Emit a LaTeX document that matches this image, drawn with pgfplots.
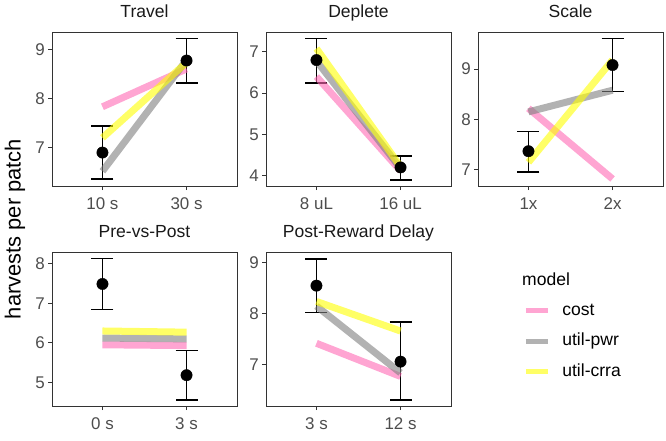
\documentclass[border=0pt]{standalone}
\usepackage{fontspec}
\setmainfont{Liberation Sans}
\usepackage{pgfplots}
\pgfplotsset{compat=1.18}
\definecolor{boxgray}{HTML}{333333}
\definecolor{ticktext}{HTML}{4D4D4D}
\definecolor{mpink}{HTML}{FF69B4}
\definecolor{mgray}{HTML}{7F7F7F}
\definecolor{myellow}{HTML}{FFFF00}
\pgfplotsset{
  panel/.style={
    scale only axis, width=185bp, height=154bp, anchor=north west,
    xmin=0.4, xmax=2.6, xtick={1,2},
    axis line style={boxgray, line width=1bp},
    tick style={boxgray, line width=1bp},
    tick align=outside, major tick length=4bp,
    xtick pos=left, ytick pos=left,
    ticklabel style={font=\fontsize{17}{20}\selectfont, text=ticktext},
    xticklabel style={inner sep=0pt, anchor=north, yshift=-7.5bp},
    yticklabel style={inner sep=0pt, anchor=east, xshift=-3bp},
    /pgf/number format/assume math mode=true,
    title style={font=\fontsize{17.6}{20}\selectfont, text=black!90, at={(0.5,1)}, anchor=base, yshift=8.5bp, inner sep=0pt},
    legend image code/.code={\draw[##1, line width=5bp] (0bp,0bp) -- (22bp,0bp);},
  },
  costl/.style={mpink, draw opacity=0.6, line width=7bp, line cap=butt, no marks},
  pwrl/.style={mgray, draw opacity=0.6, line width=7bp, line cap=butt, no marks},
  crral/.style={myellow, draw opacity=0.6, line width=7bp, line cap=butt, no marks},
  obs/.style={only marks, mark=*, mark size=5.7bp, black, forget plot,
    error bars/.cd, y dir=both, y explicit,
    error bar style={line width=1.5bp, black},
    error mark options={rotate=90, mark size=11bp, line width=1.5bp, black}},
}
\begin{document}
\begin{tikzpicture}
\useasboundingbox (0,0) rectangle (666bp,-441bp);
% Travel
\begin{axis}[panel, at={(52bp,-32bp)}, title={Travel},
  xticklabels={10 s,30 s}, ymin=6.22, ymax=9.35, ytick={7,8,9}]
\addplot[obs] coordinates {(1,6.90) += (0,0.54) -= (0,0.54) (2,8.77) += (0,0.45) -= (0,0.46)};
\addplot[costl] coordinates {(1,7.83) (2,8.60)};
\addplot[pwrl] coordinates {(1,6.52) (2,8.78)};
\addplot[crral] coordinates {(1,7.20) (2,8.73)};
\end{axis}
% Deplete
\begin{axis}[panel, at={(266bp,-32bp)}, title={Deplete},
  xticklabels={8 uL,16 uL}, ymin=3.75, ymax=7.48, ytick={4,5,6,7}]
\addplot[obs] coordinates {(1,6.80) += (0,0.52) -= (0,0.55) (2,4.20) += (0,0.28) -= (0,0.30)};
\addplot[costl] coordinates {(1,6.40) (2,4.12)};
\addplot[pwrl] coordinates {(1,6.78) (2,4.18)};
\addplot[crral] coordinates {(1,7.08) (2,4.22)};
\end{axis}
% Scale
\begin{axis}[panel, at={(478bp,-32bp)}, title={Scale},
  xticklabels={1x,2x}, ymin=6.68, ymax=9.735, ytick={7,8,9}]
\addplot[obs] coordinates {(1,7.37) += (0,0.39) -= (0,0.41) (2,9.08) += (0,0.53) -= (0,0.53)};
\addplot[costl] coordinates {(1,8.22) (2,6.82)};
\addplot[pwrl] coordinates {(1,8.15) (2,8.58)};
\addplot[crral] coordinates {(1,7.15) (2,9.18)};
\end{axis}
% Pre-vs-Post
\begin{axis}[panel, at={(52bp,-252bp)}, title={Pre-vs-Post},
  xticklabels={0 s,3 s}, ymin=4.40, ymax=8.30, ytick={5,6,7,8}]
\addplot[obs] coordinates {(1,7.49) += (0,0.65) -= (0,0.64) (2,5.18) += (0,0.62) -= (0,0.63)};
\addplot[costl] coordinates {(1,5.95) (2,5.93)};
\addplot[pwrl] coordinates {(1,6.12) (2,6.10)};
\addplot[crral] coordinates {(1,6.30) (2,6.27)};
\end{axis}
% Post-Reward Delay
\begin{axis}[panel, at={(266bp,-252bp)}, title={Post-Reward Delay},
  xticklabels={3 s,12 s}, ymin=6.18, ymax=9.20, ytick={7,8,9},
  legend style={at={(axis description cs:1.39,0.674)}, anchor=north west,
    draw=none, fill=none, inner sep=0pt, row sep=13.5bp,
    font=\fontsize{17.6}{20}\selectfont,
    nodes={inner sep=0pt, text height=13bp, text depth=4bp},
    /tikz/every odd column/.append style={column sep=12bp}},
  legend cell align=left]
\addplot[obs] coordinates {(1,8.54) += (0,0.52) -= (0,0.53) (2,7.05) += (0,0.78) -= (0,0.75)};
\addplot[costl] coordinates {(1,7.41) (2,6.76)};
\addlegendentry{cost}
\addplot[pwrl] coordinates {(1,8.14) (2,6.83)};
\addlegendentry{util-pwr}
\addplot[crral] coordinates {(1,8.23) (2,7.65)};
\addlegendentry{util-crra}
\end{axis}
\node[anchor=base west, inner sep=0pt, font=\fontsize{17.6}{20}\selectfont] at (522bp,-285bp) {model};
\node[rotate=90, inner sep=0pt, font=\fontsize{22}{24}\selectfont] at (15bp,-229bp) {harvests per patch};
\end{tikzpicture}
\end{document}
